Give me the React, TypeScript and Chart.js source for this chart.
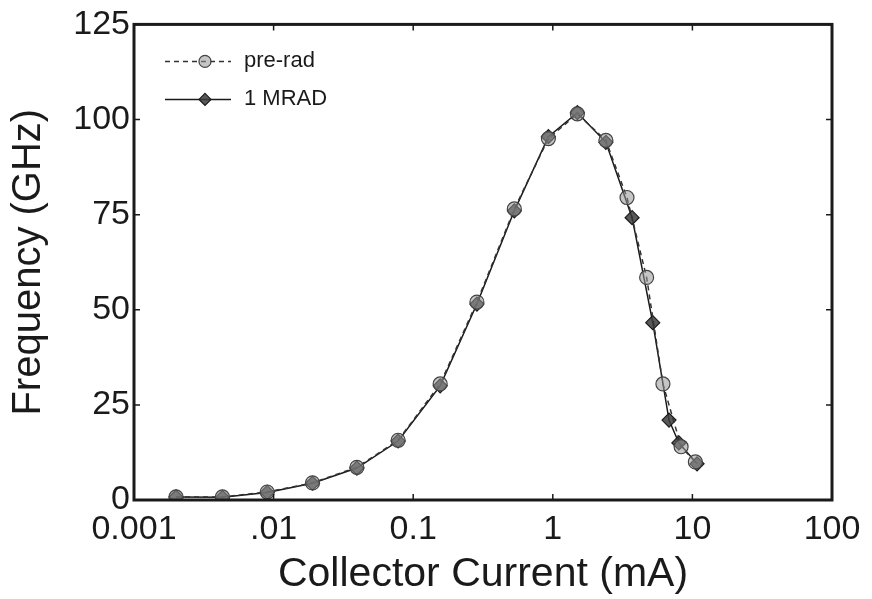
import React, { useEffect, useRef } from "react";
import { Chart, registerables } from "chart.js";

Chart.register(...registerables);

const xTickValues = [0.001, 0.01, 0.1, 1, 10, 100];
const xTickLabels = ["0.001", ".01", "0.1", "1", "10", "100"];
const yTickValues = [0, 25, 50, 75, 100, 125];

const preRadCurrent = [0.002, 0.0043, 0.009, 0.019, 0.0395, 0.078, 0.156, 0.286, 0.53, 0.93, 1.5, 2.4, 3.4, 4.7, 6.15, 8.3, 10.5];
const preRadFreq = [0.8, 0.8, 2.1, 4.5, 8.6, 15.7, 30.5, 52, 76.5, 95, 101.5, 94.5, 79.5, 58.5, 30.5, 14, 10];

const mradCurrent = [0.002, 0.0043, 0.009, 0.019, 0.0395, 0.078, 0.156, 0.286, 0.53, 0.93, 1.5, 2.4, 3.7, 5.2, 6.8, 8.0, 10.8];
const mradFreq = [0.8, 0.7, 2.0, 4.4, 8.4, 15.5, 30, 51.5, 76, 95.5, 101.8, 94, 74.2, 46.6, 21, 15, 9.5];

const seriesLabels = ["pre-rad", "1 MRAD"];

const INK = "#1a1a1a";
const FONT = "'Liberation Sans', Arial, sans-serif";

function drawMarker(ctx: CanvasRenderingContext2D, style: string, x: number, y: number, r: number, fill: string, stroke: string) {
  ctx.beginPath();
  if (style === "circle") {
    ctx.arc(x, y, r, 0, Math.PI * 2);
  } else {
    ctx.moveTo(x, y - r);
    ctx.lineTo(x + r, y);
    ctx.lineTo(x, y + r);
    ctx.lineTo(x - r, y);
    ctx.closePath();
  }
  ctx.fillStyle = fill;
  ctx.fill();
  ctx.strokeStyle = stroke;
  ctx.lineWidth = 1.2;
  ctx.setLineDash([]);
  ctx.stroke();
}

const framePlugin = {
  id: "frameAndLegend",
  afterDraw(chart: any) {
    const { ctx, chartArea: a, scales } = chart;
    ctx.save();
    ctx.strokeStyle = INK;
    ctx.lineWidth = 1.5;
    ctx.setLineDash([]);
    const tl = 6;
    xTickValues.forEach((v) => {
      const px = scales.x.getPixelForValue(v);
      ctx.beginPath();
      ctx.moveTo(px, a.bottom);
      ctx.lineTo(px, a.bottom - tl);
      ctx.moveTo(px, a.top);
      ctx.lineTo(px, a.top + tl);
      ctx.stroke();
    });
    yTickValues.forEach((v) => {
      const py = scales.y.getPixelForValue(v);
      ctx.beginPath();
      ctx.moveTo(a.left, py);
      ctx.lineTo(a.left + tl, py);
      ctx.moveTo(a.right, py);
      ctx.lineTo(a.right - tl, py);
      ctx.stroke();
    });
    ctx.lineWidth = 3;
    ctx.strokeRect(a.left, a.top, a.right - a.left, a.bottom - a.top);

    const ds = chart.data.datasets;
    const x0 = a.left + 31;
    const x1 = a.left + 97;
    const xm = a.left + 71;
    const xt = a.left + 110;
    const rows = [a.top + 37, a.top + 75];
    ds.forEach((d: any, i: number) => {
      const y = rows[i];
      ctx.strokeStyle = d.borderColor;
      ctx.lineWidth = d.borderWidth;
      ctx.setLineDash(d.borderDash || []);
      ctx.beginPath();
      ctx.moveTo(x0, y);
      ctx.lineTo(x1, y);
      ctx.stroke();
      drawMarker(ctx, d.pointStyle, xm, y, 6, d.pointBackgroundColor, d.pointBorderColor);
      ctx.fillStyle = INK;
      ctx.font = `22px ${FONT}`;
      ctx.textBaseline = "middle";
      ctx.textAlign = "left";
      ctx.fillText(d.label, xt, y);
    });
    ctx.restore();
  },
};

export default function App() {
  const ref = useRef<HTMLCanvasElement | null>(null);
  useEffect(() => {
    if (!ref.current) return;
    const chart = new Chart(ref.current, {
      type: "scatter",
      data: {
        datasets: [
          {
            label: seriesLabels[0],
            data: preRadCurrent.map((x, i) => ({ x, y: preRadFreq[i] })),
            showLine: true,
            borderColor: "#333",
            borderWidth: 1.5,
            borderDash: [5, 4],
            pointStyle: "circle",
            pointRadius: 7,
            pointBackgroundColor: "rgba(150,150,150,0.55)",
            pointBorderColor: "#444",
            pointBorderWidth: 1.2,
          },
          {
            label: seriesLabels[1],
            data: mradCurrent.map((x, i) => ({ x, y: mradFreq[i] })),
            showLine: true,
            borderColor: INK,
            borderWidth: 1.5,
            borderDash: [],
            pointStyle: "rectRot",
            pointRadius: 7,
            pointBackgroundColor: "rgba(60,60,60,0.85)",
            pointBorderColor: INK,
            pointBorderWidth: 1.2,
          },
        ],
      },
      options: {
        animation: false,
        responsive: false,
        maintainAspectRatio: false,
        layout: { padding: { top: 23, right: 40, left: 0, bottom: 0 } },
        plugins: { legend: { display: false }, tooltip: { enabled: false } },
        scales: {
          x: {
            type: "logarithmic",
            min: 0.001,
            max: 100,
            afterBuildTicks: (s: any) => {
              s.ticks = xTickValues.map((v) => ({ value: v }));
            },
            afterFit: (s: any) => {
              s.height = 99;
            },
            grid: { display: false, drawTicks: false },
            border: { display: false },
            ticks: {
              autoSkip: false,
              maxRotation: 0,
              padding: 9,
              color: INK,
              font: { family: FONT, size: 34 },
              callback: (v: any) => {
                const idx = xTickValues.indexOf(Number(v));
                return idx >= 0 ? xTickLabels[idx] : "";
              },
            },
            title: {
              display: true,
              text: "Collector Current (mA)",
              color: INK,
              font: { family: FONT, size: 41 },
              padding: { top: 0, bottom: 0 },
            },
          },
          y: {
            type: "linear",
            min: 0,
            max: 125,
            afterBuildTicks: (s: any) => {
              s.ticks = yTickValues.map((v) => ({ value: v }));
            },
            afterFit: (s: any) => {
              s.width = 134;
            },
            grid: { display: false, drawTicks: false },
            border: { display: false },
            ticks: {
              padding: 4,
              color: INK,
              font: { family: FONT, size: 34 },
            },
            title: {
              display: true,
              text: "Frequency (GHz)",
              color: INK,
              font: { family: FONT, size: 40 },
              padding: { top: 5, bottom: 0 },
            },
          },
        },
      },
      plugins: [framePlugin],
    });
    return () => chart.destroy();
  }, []);
  return (
    <div style={{ position: "absolute", left: 0, top: 0, width: 872, height: 599, background: "#fff" }}>
      <canvas ref={ref} width={872} height={599} style={{ display: "block" }} />
    </div>
  );
}
